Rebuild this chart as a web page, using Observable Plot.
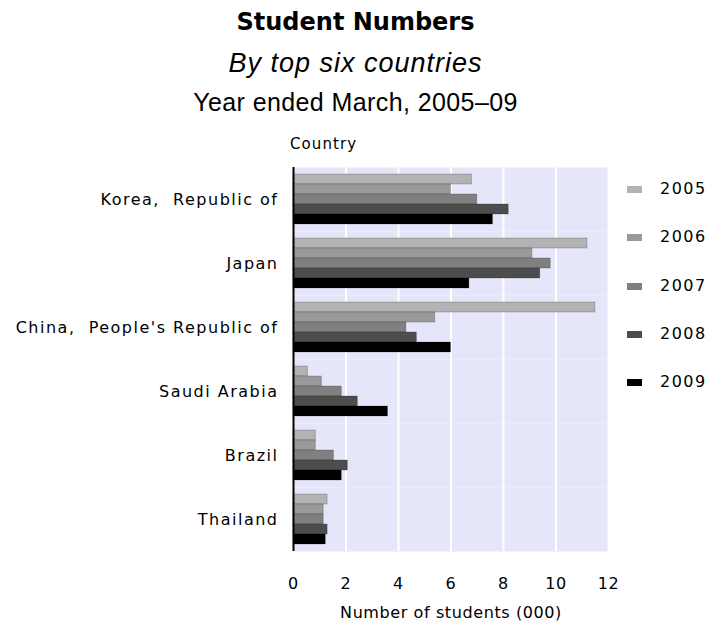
<!DOCTYPE html>
<html>
<head>
<meta charset="utf-8">
<script src="https://cdn.jsdelivr.net/npm/d3@7"></script>
<script src="https://cdn.jsdelivr.net/npm/@observablehq/plot@0.6"></script>
<style>
  html, body { margin: 0; padding: 0; background: #fff; }
  #wrap { position: relative; width: 711px; height: 626px; overflow: hidden; color: #000; }
  .t { position: absolute; left: 0; width: 711px; text-align: center; line-height: 1; white-space: nowrap; }
  #title { top: 8px; font: bold 24px "DejaVu Sans", sans-serif; }
  #subtitle { top: 48px; font: italic 27px "Liberation Sans", Arial, sans-serif; letter-spacing: 1px; }
  #sub2 { top: 88px; font: 25px "Liberation Sans", Arial, sans-serif; letter-spacing: 0.4px; }
  #ylab { position: absolute; left: 290px; top: 137px; font: 15px "DejaVu Sans", sans-serif; letter-spacing: 1.1px; line-height: 1; }
  #chart { position: absolute; left: 0; top: 130px; }
  .leg { position: absolute; left: 660px; font: 16px "DejaVu Sans", sans-serif; letter-spacing: 1.5px; line-height: 1; }
  .sw { position: absolute; left: 627px; width: 15px; height: 7px; }
  #chart svg g[aria-label="fy-axis tick label"] text { letter-spacing: 1.5px; }
</style>
</head>
<body>
<div id="wrap">
  <div class="t" id="title">Student Numbers</div>
  <div class="t" id="subtitle">By top six countries</div>
  <div class="t" id="sub2">Year ended March, 2005–09</div>
  <div id="ylab">Country</div>
  <div id="chart"></div>
</div>
<script>
const countries = ["Korea,  Republic of", "Japan", "China,  People's Republic of", "Saudi Arabia", "Brazil", "Thailand"];
const years = ["2005", "2006", "2007", "2008", "2009"];
const values2005 = [6.8, 11.2, 11.5, 0.55, 0.85, 1.3];
const values2006 = [6.0, 9.1, 5.4, 1.08, 0.85, 1.15];
const values2007 = [7.0, 9.8, 4.3, 1.84, 1.54, 1.15];
const values2008 = [8.2, 9.4, 4.7, 2.45, 2.07, 1.3];
const values2009 = [7.6, 6.7, 6.0, 3.6, 1.84, 1.23];
const xTicks = [0, 2, 4, 6, 8, 10, 12];
const colors = ["#b3b3b3", "#999999", "#808080", "#4d4d4d", "#000000"];

const series = [values2005, values2006, values2007, values2008, values2009];
const rows = [];
countries.forEach((c, i) => {
  years.forEach((y, j) => rows.push({country: c, year: y, value: series[j][i]}));
});

const plot = Plot.plot({
  width: 711,
  height: 496,
  marginTop: 36,
  marginBottom: 74,
  marginLeft: 293,
  marginRight: 103,
  style: {fontFamily: "DejaVu Sans, sans-serif", fontSize: "16px", letterSpacing: "0.6px", background: "transparent", color: "#000"},
  x: {domain: [0, 12], ticks: xTicks, tickSize: 0, tickPadding: 26, label: "Number of students (000)", labelAnchor: "center", labelOffset: 66, labelArrow: "none"},
  y: {domain: years, paddingInner: 0, paddingOuter: 0.5, axis: null},
  fy: {domain: countries, padding: 0, axis: "left", tickSize: 0, tickPadding: 15, label: null},
  color: {domain: years, range: colors},
  marks: [
    Plot.frame({fill: "#e6e6fa", stroke: null}),
    Plot.ruleX(xTicks.filter(d => d > 0), {stroke: "white", strokeWidth: 2}),
    Plot.barX(rows, {x: "value", y: "year", fy: "country", fill: "year", stroke: "#000", strokeOpacity: 0.2, strokeWidth: 1}),
    Plot.ruleX([0], {stroke: "black", strokeWidth: 2})
  ]
});
document.getElementById("chart").appendChild(plot);

const wrap = document.getElementById("wrap");
const legY = [189, 237, 286, 334, 382];
years.forEach((y, i) => {
  const sw = document.createElement("div");
  sw.className = "sw";
  sw.style.top = (legY[i] - 3.5) + "px";
  sw.style.background = colors[i];
  wrap.appendChild(sw);
  const lb = document.createElement("div");
  lb.className = "leg";
  lb.style.top = (legY[i] - 8) + "px";
  lb.textContent = y;
  wrap.appendChild(lb);
});
</script>
</body>
</html>
